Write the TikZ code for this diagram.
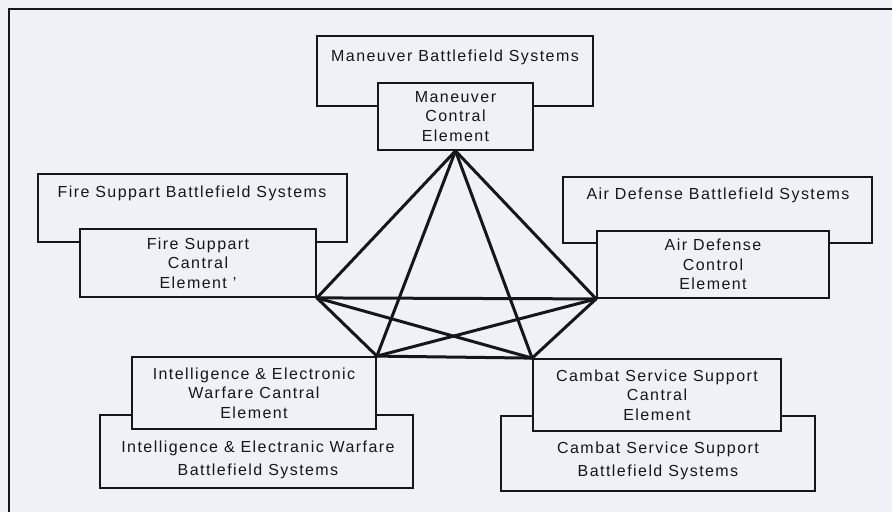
\documentclass[tikz,border=0pt]{standalone}
\usepackage{fontspec}
\setmainfont{Liberation Sans}[LetterSpace=9]
\begin{document}
\definecolor{paper}{RGB}{240,240,247}
\definecolor{ink}{RGB}{22,22,26}
\begin{tikzpicture}[x=1pt,y=-1pt,
  every node/.style={font=\fontsize{16}{19.5}\selectfont, text=ink},
  framebox/.style={draw=ink, line width=1.8pt, fill=paper, inner sep=0pt, align=center},
  caption/.style={inner sep=0pt, align=center},
  widecaption/.style={caption, font=\fontsize{16}{23}\selectfont},
  link/.style={draw=ink, line width=3pt, line cap=round}]
  % paper and outer frame
  \fill[paper] (0,0) rectangle (892,512);
  \useasboundingbox (0,0) rectangle (892,512);
  \coordinate (frameTR) at (892,9);
  \coordinate (frameTL) at (9,9);
  \coordinate (frameBL) at (9,512);
  \draw[ink, line width=1.8pt] (frameTR) -- (frameTL) -- (frameBL);

  % battlefield system boxes (behind)
  \node[framebox, minimum width=276pt, minimum height=70pt] (mbs) at (455,71) {};
  \node[framebox, minimum width=309pt, minimum height=68pt] (fsb) at (192.5,208) {};
  \node[framebox, minimum width=309pt, minimum height=66pt] (adb) at (717.5,210) {};
  \node[framebox, minimum width=313pt, minimum height=73pt] (iewb) at (256.5,451.5) {};
  \node[framebox, minimum width=314pt, minimum height=75pt] (cssb) at (658,453.5) {};

  \node[caption] (mbsT) at (455,57) {Maneuver Battlefield Systems};
  \node[caption] (fsbT) at (192,193) {Fire Suppart Battlefield Systems};
  \node[caption] (adbT) at (718,195) {Air Defense Battlefield Systems};
  \node[widecaption] (iewbT) at (258,460) {Intelligence \& Electranic Warfare\\Battlefield Systems};
  \node[widecaption] (cssbT) at (658,461) {Cambat Service Support\\Battlefield Systems};

  % control elements (in front)
  \node[framebox, minimum width=155pt, minimum height=67pt] (mce) at (455.5,116.5) {Maneuver\\Contral\\Element};
  \node[framebox, minimum width=236pt, minimum height=68pt] (fsc) at (198,263) {Fire Suppart\\Cantral\\Element '};
  \node[framebox, minimum width=232pt, minimum height=67pt] (adc) at (713,264.5) {Air Defense\\Control\\Element};
  \node[framebox, minimum width=244pt, minimum height=72pt] (iewc) at (254,393) {Intelligence \& Electronic\\Warfare Cantral\\Element};
  \node[framebox, minimum width=248pt, minimum height=72pt] (cssc) at (657,395) {Cambat Service Support\\Cantral\\Element};

  % links between every pair of control elements
  \draw[link] (mce.south) -- (fsc.south east);
  \draw[link] (mce.south) -- (adc.south west);
  \draw[link] (mce.south) -- (iewc.north east);
  \draw[link] (mce.south) -- (cssc.north west);
  \draw[link] (fsc.south east) -- (adc.south west);
  \draw[link] (fsc.south east) -- (iewc.north east);
  \draw[link] (fsc.south east) -- (cssc.north west);
  \draw[link] (adc.south west) -- (iewc.north east);
  \draw[link] (adc.south west) -- (cssc.north west);
  \draw[link] (iewc.north east) -- (cssc.north west);
\end{tikzpicture}
\end{document}
